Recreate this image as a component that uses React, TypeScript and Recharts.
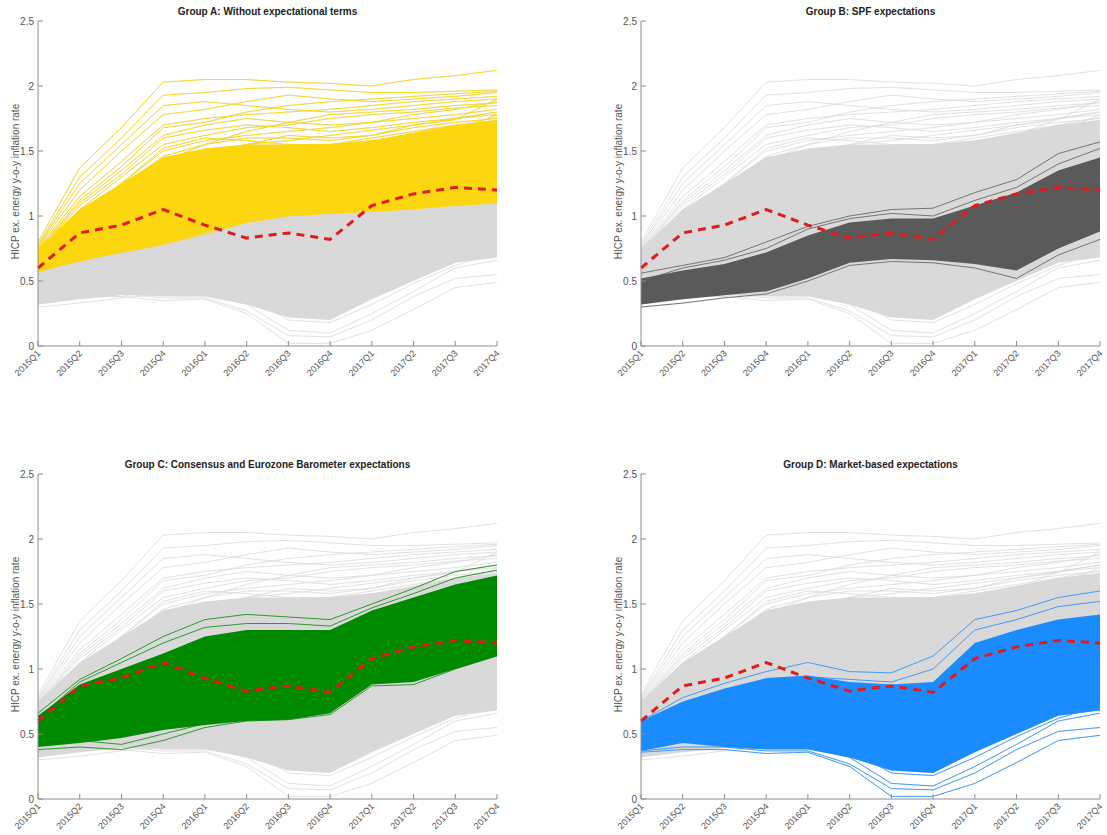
import { ComposedChart, Area, Line, XAxis, YAxis } from 'recharts';

const quarters = ['2015Q1', '2015Q2', '2015Q3', '2015Q4', '2016Q1', '2016Q2', '2016Q3', '2016Q4', '2017Q1', '2017Q2', '2017Q3', '2017Q4'];
const yTicks = [0, 0.5, 1, 1.5, 2, 2.5];

// realised HICP ex. energy
const actual = [0.6, 0.87, 0.93, 1.05, 0.93, 0.83, 0.87, 0.82, 1.08, 1.17, 1.22, 1.2];

// Group A: without expectational terms
const aLow = [0.57, 0.65, 0.72, 0.78, 0.87, 0.95, 1.0, 1.02, 1.03, 1.05, 1.08, 1.1];
const aHigh = [0.75, 1.05, 1.25, 1.45, 1.52, 1.55, 1.55, 1.55, 1.58, 1.64, 1.7, 1.74];
const aLines = [
  [0.8, 1.37, 1.68, 2.03, 2.05, 2.05, 2.03, 2.02, 2.0, 2.05, 2.08, 2.12],
  [0.78, 1.3, 1.6, 1.93, 1.95, 1.98, 1.99, 1.97, 1.95, 1.95, 1.96, 1.97],
  [0.77, 1.25, 1.55, 1.85, 1.88, 1.85, 1.82, 1.8, 1.82, 1.85, 1.88, 1.9],
  [0.76, 1.2, 1.5, 1.78, 1.82, 1.88, 1.93, 1.9, 1.88, 1.9, 1.92, 1.95],
  [0.75, 1.15, 1.42, 1.7, 1.75, 1.78, 1.8, 1.82, 1.85, 1.88, 1.9, 1.92],
  [0.74, 1.12, 1.38, 1.68, 1.72, 1.8, 1.85, 1.88, 1.9, 1.92, 1.94, 1.96],
  [0.74, 1.1, 1.35, 1.62, 1.7, 1.75, 1.72, 1.7, 1.72, 1.78, 1.82, 1.88],
  [0.73, 1.08, 1.32, 1.6, 1.66, 1.7, 1.68, 1.65, 1.68, 1.72, 1.75, 1.78],
  [0.72, 1.05, 1.3, 1.55, 1.62, 1.68, 1.7, 1.75, 1.78, 1.8, 1.83, 1.85],
  [0.71, 1.02, 1.22, 1.46, 1.55, 1.6, 1.6, 1.58, 1.62, 1.68, 1.72, 1.75],
  [0.7, 1.0, 1.25, 1.5, 1.58, 1.62, 1.65, 1.68, 1.72, 1.75, 1.78, 1.82],
  [0.7, 1.02, 1.25, 1.52, 1.6, 1.58, 1.55, 1.55, 1.6, 1.65, 1.7, 1.68],
  [0.69, 0.98, 1.2, 1.45, 1.5, 1.55, 1.58, 1.62, 1.66, 1.7, 1.74, 1.9],
  [0.68, 0.95, 1.15, 1.42, 1.55, 1.65, 1.72, 1.78, 1.8, 1.82, 1.85, 1.87],
  [0.67, 0.92, 1.12, 1.35, 1.45, 1.5, 1.52, 1.55, 1.58, 1.62, 1.66, 1.7],
  [0.66, 0.9, 1.1, 1.3, 1.42, 1.55, 1.62, 1.6, 1.62, 1.7, 1.75, 1.8],
  [0.65, 0.88, 1.05, 1.25, 1.35, 1.4, 1.42, 1.45, 1.5, 1.58, 1.65, 1.78],
  [0.6, 0.72, 0.82, 0.92, 1.0, 1.05, 1.08, 1.1, 1.15, 1.2, 1.25, 1.3],
  [0.57, 0.66, 0.72, 0.78, 0.86, 0.95, 1.0, 1.02, 1.04, 1.06, 1.08, 1.1],
];

// Group B: SPF expectations
const bLow = [0.32, 0.36, 0.39, 0.42, 0.52, 0.64, 0.67, 0.66, 0.63, 0.58, 0.75, 0.88];
const bHigh = [0.52, 0.58, 0.63, 0.72, 0.85, 0.95, 0.98, 0.98, 1.08, 1.18, 1.35, 1.45];
const bLines = [
  [0.56, 0.62, 0.68, 0.8, 0.92, 1.0, 1.05, 1.06, 1.18, 1.28, 1.48, 1.57],
  [0.5, 0.6, 0.66, 0.75, 0.9, 0.98, 1.02, 1.0, 1.12, 1.22, 1.4, 1.52],
  [0.45, 0.5, 0.55, 0.62, 0.75, 0.85, 0.88, 0.86, 0.95, 1.05, 1.25, 1.38],
  [0.35, 0.4, 0.45, 0.5, 0.6, 0.7, 0.72, 0.7, 0.68, 0.6, 0.85, 1.0],
  [0.3, 0.33, 0.37, 0.4, 0.5, 0.62, 0.65, 0.64, 0.6, 0.52, 0.7, 0.82],
];

// Group C: Consensus and Eurozone Barometer expectations
const cLow = [0.4, 0.43, 0.47, 0.53, 0.57, 0.6, 0.61, 0.66, 0.88, 0.9, 1.0, 1.1];
const cHigh = [0.64, 0.88, 1.0, 1.12, 1.25, 1.3, 1.3, 1.3, 1.45, 1.55, 1.65, 1.72];
const cLines = [
  [0.66, 0.92, 1.08, 1.25, 1.38, 1.42, 1.4, 1.38, 1.5, 1.62, 1.75, 1.8],
  [0.62, 0.9, 1.05, 1.2, 1.32, 1.35, 1.35, 1.33, 1.47, 1.58, 1.7, 1.76],
  [0.42, 0.45, 0.42, 0.5, 0.58, 0.62, 0.63, 0.68, 0.92, 0.95, 1.05, 1.14],
  [0.38, 0.4, 0.38, 0.45, 0.55, 0.6, 0.61, 0.65, 0.87, 0.88, 1.0, 1.1],
];

// Group D: market-based expectations
const dLow = [0.37, 0.43, 0.4, 0.38, 0.38, 0.32, 0.22, 0.2, 0.36, 0.5, 0.64, 0.68];
const dHigh = [0.6, 0.75, 0.85, 0.93, 0.95, 0.9, 0.88, 0.9, 1.2, 1.3, 1.38, 1.42];
const dLines = [
  [0.6, 0.78, 0.89, 0.98, 1.05, 0.98, 0.97, 1.1, 1.38, 1.45, 1.55, 1.6],
  [0.55, 0.72, 0.82, 0.9, 0.94, 0.92, 0.9, 1.0, 1.3, 1.38, 1.48, 1.52],
  [0.45, 0.55, 0.58, 0.55, 0.52, 0.45, 0.3, 0.28, 0.45, 0.6, 0.75, 0.85],
  [0.42, 0.5, 0.5, 0.45, 0.45, 0.38, 0.2, 0.18, 0.32, 0.48, 0.62, 0.72],
  [0.4, 0.45, 0.42, 0.4, 0.4, 0.32, 0.12, 0.1, 0.25, 0.42, 0.6, 0.66],
  [0.37, 0.4, 0.4, 0.37, 0.37, 0.27, 0.08, 0.07, 0.2, 0.38, 0.52, 0.55],
  [0.36, 0.38, 0.38, 0.35, 0.36, 0.25, 0.02, 0.02, 0.12, 0.28, 0.45, 0.49],
];

type Group = { key: string; color: string; low: number[]; high: number[]; lines: number[][]; bandOpacity: number };

const groups: Group[] = [
  { key: 'a', color: '#ffd700', low: aLow, high: aHigh, lines: aLines, bandOpacity: 0.92 },
  { key: 'b', color: '#5a5a5a', low: bLow, high: bHigh, lines: bLines, bandOpacity: 1 },
  { key: 'c', color: '#008a00', low: cLow, high: cHigh, lines: cLines, bandOpacity: 1 },
  { key: 'd', color: '#1a8cff', low: dLow, high: dHigh, lines: dLines, bandOpacity: 1 },
];

const rows = quarters.map((q, i) => {
  const row: Record<string, unknown> = { q, actual: actual[i] };
  groups.forEach((g) => {
    row[`${g.key}Band`] = [g.low[i], g.high[i]];
    g.lines.forEach((l, j) => {
      row[`${g.key}${j}`] = l[i];
    });
  });
  return row;
});

const panels = [
  { title: 'Group A: Without expectational terms', group: 'a', left: 0, top: 0 },
  { title: 'Group B: SPF expectations', group: 'b', left: 603, top: 0 },
  { title: 'Group C: Consensus and Eurozone Barometer expectations', group: 'c', left: 0, top: 453 },
  { title: 'Group D: Market-based expectations', group: 'd', left: 603, top: 453 },
];

const FONT = '"Liberation Sans", Arial, sans-serif';
const GRAY = '#d9d9d9';
const AXIS = '#8c8c8c';

const XTick = ({ x, y, payload }: any) => (
  <g transform={`translate(${x + 3},${y + 3})`}>
    <text x={0} y={0} textAnchor="end" transform="rotate(-45)" fontSize={9} fill="#555" fontFamily={FONT}>
      {payload.value}
    </text>
  </g>
);

// everything is an Area so that the paint order follows the child order:
// bands are range areas, single paths are unfilled areas
function drawGroup(g: Group, color: string, opacity: number) {
  return [
    <Area
      key={`${g.key}-${color}-band`}
      type="linear"
      dataKey={`${g.key}Band`}
      stroke="none"
      fill={color}
      fillOpacity={opacity}
      activeDot={false}
      isAnimationActive={false}
    />,
    ...g.lines.map((_, j) => (
      <Area
        key={`${g.key}-${color}-${j}`}
        type="linear"
        dataKey={`${g.key}${j}`}
        stroke={color}
        strokeWidth={0.8}
        fill="none"
        fillOpacity={0}
        activeDot={false}
        isAnimationActive={false}
      />
    )),
  ];
}

function Panel({ title, group, left, top }: { title: string; group: string; left: number; top: number }) {
  const focus = groups.find((g) => g.key === group)!;
  return (
    <div style={{ position: 'absolute', left, top, width: 507, height: 396 }}>
      <div
        style={{
          position: 'absolute', left: 38, width: 459, top: 6, textAlign: 'center',
          fontFamily: FONT, fontSize: 10, fontWeight: 'bold', color: '#222',
        }}
      >
        {title}
      </div>
      <div
        style={{
          position: 'absolute', left: 15 - 110, top: 183 - 7, width: 220, textAlign: 'center',
          transform: 'rotate(-90deg)', fontFamily: FONT, fontSize: 10, color: '#555',
        }}
      >
        HICP ex. energy y-o-y inflation rate
      </div>
      <ComposedChart width={507} height={396} data={rows} margin={{ top: 21, right: 10, left: 0, bottom: 0 }}>
        <XAxis
          dataKey="q" type="category" scale="point" padding={{ left: 0, right: 0 }}
          height={50} interval={0} tickSize={-5} tickMargin={10}
          stroke={AXIS} tick={<XTick />}
        />
        <XAxis
          xAxisId="top" orientation="top" dataKey="q" type="category" scale="point"
          padding={{ left: 0, right: 0 }} height={0} interval={0} tickSize={-5} tick={false} stroke={AXIS}
        />
        <YAxis
          domain={[0, 2.5]} ticks={yTicks} width={38} tickSize={-5} tickMargin={9}
          stroke={AXIS} tick={{ fontSize: 10, fill: '#555', fontFamily: FONT }} allowDataOverflow
        />
        <YAxis
          yAxisId="right" orientation="right" domain={[0, 2.5]} ticks={yTicks} width={0}
          tickSize={-5} tick={false} stroke={AXIS}
        />
        {groups.map((g) => drawGroup(g, GRAY, 1))}
        {drawGroup(focus, focus.color, focus.bandOpacity)}
        <Line
          type="linear" dataKey="actual" stroke="#e31a1c" strokeWidth={3} strokeDasharray="8 6"
          dot={false} activeDot={false} isAnimationActive={false}
        />
      </ComposedChart>
    </div>
  );
}

export default function App() {
  return (
    <div style={{ position: 'fixed', left: 0, top: 0, width: 1107, height: 835, background: '#fff' }}>
      {panels.map((p) => (
        <Panel key={p.group} {...p} />
      ))}
    </div>
  );
}
